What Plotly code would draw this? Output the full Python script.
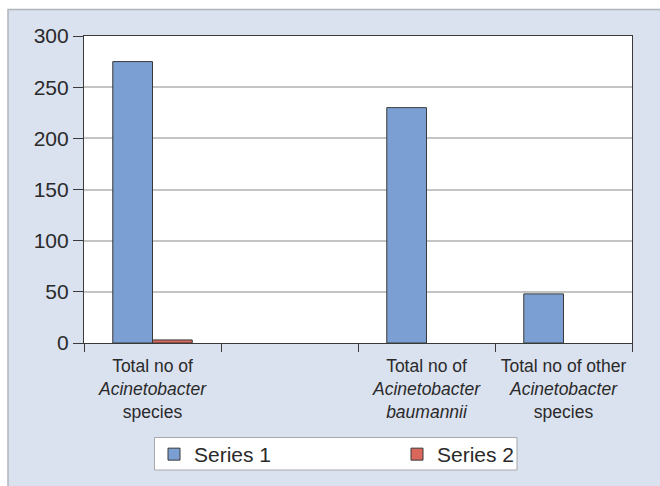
import plotly.graph_objects as go

categories = [
    "Total no of<br><i>Acinetobacter</i><br>species",
    " ",
    "Total no of<br><i>Acinetobacter</i><br><i>baumannii</i>",
    "Total no of other<br><i>Acinetobacter</i><br>species",
]
series1 = [275, None, 230, 48]
series2 = [3, None, 0, 0]
y_ticks = [0, 50, 100, 150, 200, 250, 300]

W, H = 660, 486
L, R, T, B = 84, 28, 36, 143
pw, ph = W - L - R, H - T - B

def px_x(p):
    return (p - L) / pw

def px_y(p):
    return (H - B - p) / ph

edge1 = [1 if (v or 0) > 0 else 0 for v in series1]
edge2 = [1 if (v or 0) > 0 else 0 for v in series2]

fig = go.Figure()
fig.add_trace(go.Bar(x=categories, y=series1, name="Series 1",
                     marker=dict(color="#7b9fd3", line=dict(color="#3a3a3a", width=edge1))))
fig.add_trace(go.Bar(x=categories, y=series2, name="Series 2",
                     marker=dict(color="#d9675c", line=dict(color="#3a3a3a", width=edge2))))

fig.update_layout(
    width=W, height=H,
    margin=dict(l=L, r=R, t=T, b=B, pad=0),
    paper_bgcolor="white",
    plot_bgcolor="white",
    barmode="group",
    bargap=0.42,
    bargroupgap=0,
    font=dict(family="Liberation Sans, Arial, sans-serif", color="#2a2a2a"),
    showlegend=True,
    legend=dict(
        orientation="h",
        xref="container", yref="container",
        x=154 / W, y=1 - 434 / H, xanchor="left", yanchor="top",
        bgcolor="rgba(0,0,0,0)", borderwidth=0,
        font=dict(size=21, color="#2a2a2a"),
        entrywidth=198, entrywidthmode="pixels",
        itemwidth=30,
    ),
    shapes=[
        dict(type="rect", xref="paper", yref="paper", layer="below",
             x0=px_x(8), x1=px_x(662), y0=px_y(488), y1=px_y(9.5),
             fillcolor="#dae1ef", line=dict(color="#b0b4bc", width=1.5)),
        dict(type="rect", xref="paper", yref="paper", layer="below",
             x0=0, x1=1, y0=0, y1=1,
             fillcolor="white", line=dict(width=0)),
        dict(type="rect", xref="paper", yref="paper", layer="below",
             x0=px_x(154.5), x1=px_x(517), y0=px_y(470), y1=px_y(437.5),
             fillcolor="white", line=dict(color="#a8a8a8", width=1)),
    ],
)

fig.update_xaxes(
    type="category",
    categoryorder="array", categoryarray=categories,
    tickson="boundaries",
    ticks="outside", ticklen=8, tickcolor="#3a3a3a", tickwidth=1,
    ticklabelstandoff=7, tickangle=0,
    showline=True, linecolor="#3a3a3a", linewidth=1.2, mirror=True,
    showgrid=False, automargin=False,
    tickfont=dict(size=17.5, color="#2a2a2a"),
)
fig.update_yaxes(
    range=[0, 300],
    tickvals=y_ticks,
    ticks="outside", ticklen=10, tickcolor="#3a3a3a", tickwidth=1,
    showline=True, linecolor="#3a3a3a", linewidth=1.2, mirror=True,
    showgrid=True, gridcolor="#c4c4c4", gridwidth=1.5,
    zeroline=False, automargin=False,
    tickfont=dict(size=21, color="#2a2a2a"),
)

fig.write_html("out.html")
